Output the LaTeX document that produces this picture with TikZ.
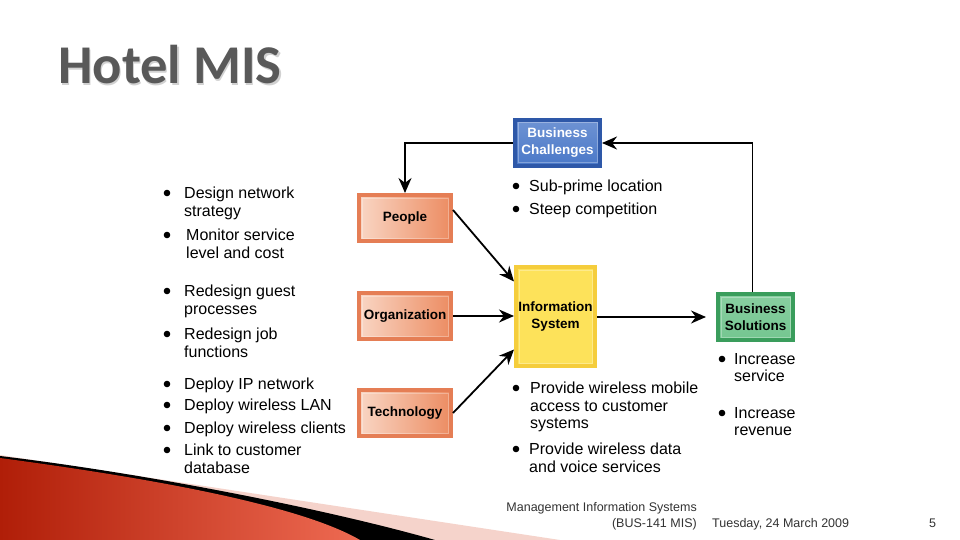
\documentclass[tikz,border=0pt]{standalone}
\usepackage{fontspec}
\setmainfont{Liberation Sans}
\newfontfamily\titlefont{Carlito}
\usetikzlibrary{arrows.meta,positioning}
\definecolor{titlegray}{HTML}{595959}
\definecolor{pplfill}{HTML}{F9D6C4}
\definecolor{pplfillb}{HTML}{EC8C62}
\definecolor{pplline}{HTML}{E57E55}
\definecolor{bcfill}{HTML}{4A78C8}
\definecolor{bcline}{HTML}{2E58A8}
\definecolor{isfill}{HTML}{FDE25A}
\definecolor{isline}{HTML}{F5CD3C}
\definecolor{bsfill}{HTML}{74C690}
\definecolor{bsline}{HTML}{3A9D5C}
\definecolor{redA}{HTML}{B01E08}
\definecolor{redB}{HTML}{EE6A52}
\definecolor{pinkband}{HTML}{F5D3CB}
\newcommand{\bitem}[5]{\fill (#2,#4) circle (3.3);
  \node[itemtext] (#1) at (#3,#4-6) {#5};}

\begin{document}
\begin{tikzpicture}[x=1pt,y=-1pt,>=Stealth,
  box/.style={line width=4pt,inner sep=0pt,align=center,font=\bfseries\fontsize{13.5}{17}\selectfont,
    path picture={\draw[white,opacity=0.3,line width=1pt] ([shift={(3pt,-3pt)}]path picture bounding box.north west) rectangle ([shift={(-3pt,3pt)}]path picture bounding box.south east);}},
  ppl/.style={box,draw=pplline,left color=pplfill,right color=pplfillb,minimum width=92,minimum height=46},
  itemtext/.style={anchor=north west,inner sep=0pt,align=left,font=\fontsize{16}{17.5}\selectfont},
  conn/.style={line width=1.8pt,-{Stealth[length=15pt,width=13pt]}},
  foot/.style={inner sep=0pt,font=\fontsize{12.5}{16}\selectfont,text=black!80}]
\useasboundingbox (0,0) rectangle (960,540);
\fill[white] (0,0) rectangle (960,540);
% corner decoration
\fill[pinkband] (0,455) -- (560,540) -- (0,540) -- cycle;
\fill[black] (0,456) .. controls (150,474) and (330,510) .. (435,540) -- (0,540) -- cycle;
\shade[left color=redA,right color=redB] (0,458) .. controls (150,478) and (300,505) .. (360,540) -- (0,540) -- cycle;
% title
\node[anchor=base west,inner sep=0pt,text=black!18,font=\titlefont\bfseries\fontsize{54.6}{60}\selectfont] at (59.3,85.6) {Hotel MIS};
\node[anchor=base west,inner sep=0pt,text=titlegray,font=\titlefont\bfseries\fontsize{54.6}{60}\selectfont] (title) at (58,84) {Hotel MIS};
% boxes
\node[box,draw=bcline,top color=bcfill!80!white,bottom color=bcfill,text=white,minimum width=85,minimum height=46] (bc) at (557.5,143) {Business\\Challenges};
\node[ppl] (people) at (405,218) {People};
\node[ppl] (org) at (405,316) {Organization};
\node[ppl] (tech) at (405,413) {Technology};
\node[box,draw=isline,fill=isfill,minimum width=79,minimum height=99] (info) at (555.5,316.5) {Information\\System};
\node[box,draw=bsline,top color=bsfill!85!white,bottom color=bsfill,minimum width=75,minimum height=46] (bs) at (755.5,317) {Business\\Solutions};
% connectors
\draw[conn] (bc.west) -| (people.north);
\draw[conn] ([xshift=-3]bs.north) |- (bc.east);
\draw[conn] ([yshift=8]people.east) -- ([yshift=35]info.west);
\draw[conn] (org.east) -- (info.west |- org.east);
\draw[conn] (tech.east) -- ([yshift=-33]info.west);
\draw[conn] (info.east |- bs.west) -- ([xshift=-10]bs.west);
% bullet lists
\bitem{dns}{167}{184}{193}{Design network\\strategy}
\bitem{msl}{167}{186}{235}{Monitor service\\level and cost}
\bitem{rgp}{167}{184}{291}{Redesign guest\\processes}
\bitem{rjf}{167}{184}{334}{Redesign job\\functions}
\bitem{dip}{167}{184}{384}{Deploy IP network}
\bitem{dwl}{167}{184}{405}{Deploy wireless LAN}
\bitem{dwc}{167}{184}{428}{Deploy wireless clients}
\bitem{lcd}{167}{184}{450}{Link to customer\\database}
\bitem{spl}{516}{529}{186}{Sub-prime location}
\bitem{stc}{516}{529}{209}{Steep competition}
\bitem{pwm}{516}{530}{388}{Provide wireless mobile\\access to customer\\systems}
\bitem{pwd}{516}{529}{449}{Provide wireless data\\and voice services}
\bitem{isv}{722}{734}{359}{Increase\\service}
\bitem{irv}{722}{734}{413}{Increase\\revenue}
% footer
\node[foot,anchor=base east] (course) at (697,511) {Management Information Systems};
\node[foot,anchor=base east] (code) at (697,527) {(BUS-141 MIS)};
\node[foot,anchor=base west] (date) at (712,527) {Tuesday, 24 March 2009};
\node[foot,anchor=base west] (page) at (929,527) {5};
\end{tikzpicture}
\end{document}
